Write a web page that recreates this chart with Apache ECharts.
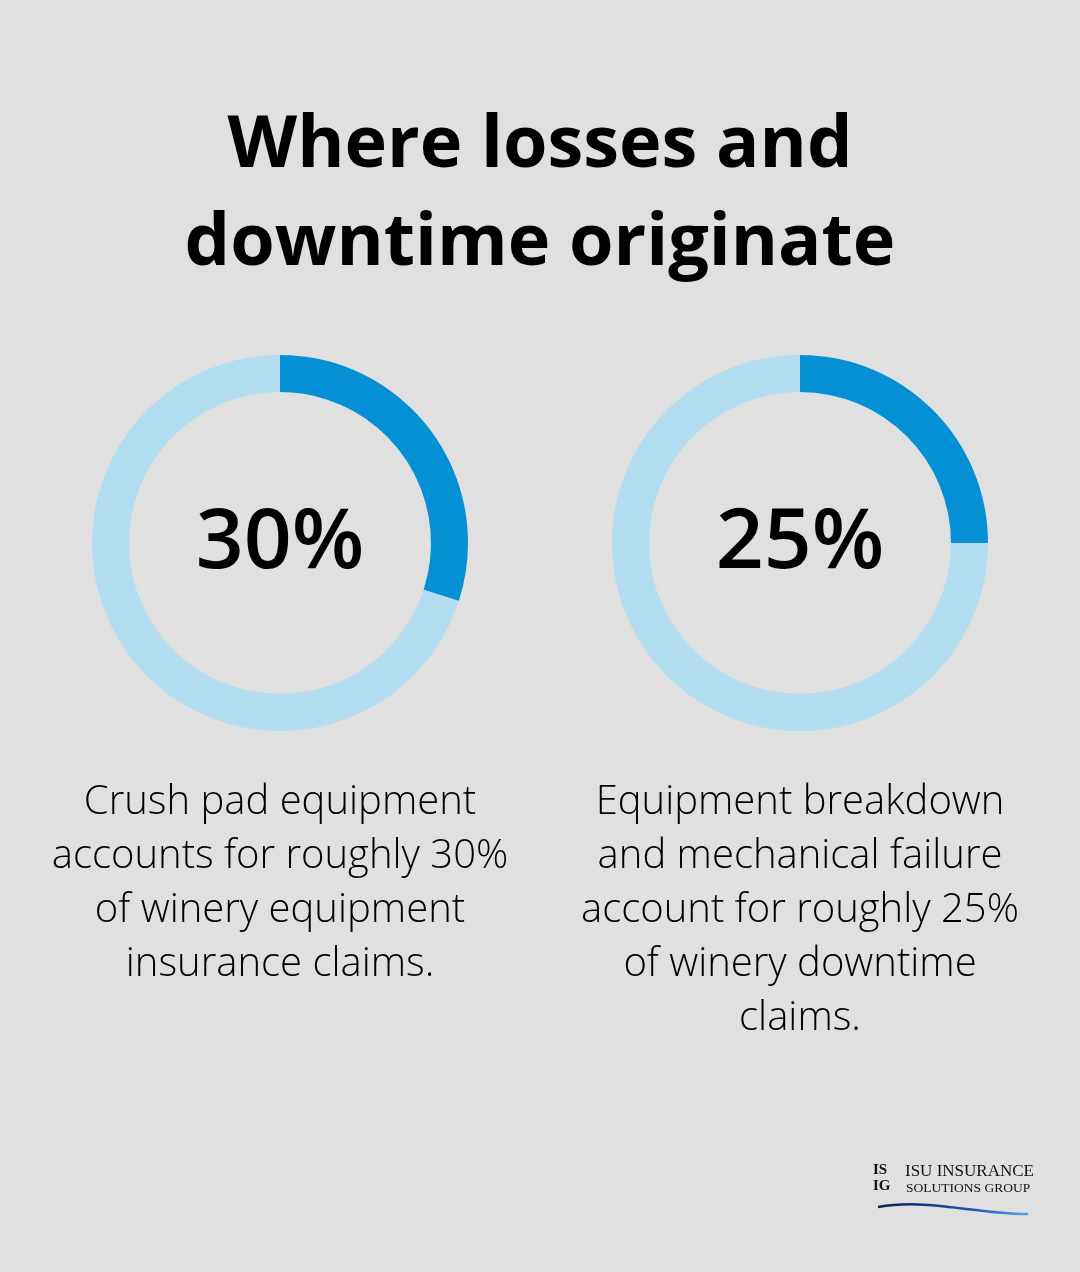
<!DOCTYPE html>
<html><head><meta charset="utf-8">
<script src="https://cdn.jsdelivr.net/npm/echarts@6/dist/echarts.min.js"></script>
<style>html,body{margin:0;padding:0;background:#dfe0df}#c{width:1080px;height:1272px}</style>
</head><body><div id="c"></div>
<script>
const titleLines = ["Where losses and", "downtime originate"];
const shares = [30, 25];
const centerLabels = ["30%", "25%"];
const descriptions = [
  "Crush pad equipment\naccounts for roughly 30%\nof winery equipment\ninsurance claims.",
  "Equipment breakdown\nand mechanical failure\naccount for roughly 25%\nof winery downtime\nclaims."
];
const logoLines = ["ISU INSURANCE", "SOLUTIONS GROUP"];

const centersX = [280, 800];
const chart = echarts.init(document.getElementById('c'));
const series = shares.map((v, i) => ({
  type: 'pie',
  center: [centersX[i], 543],
  radius: [151, 188],
  startAngle: 90,
  clockwise: true,
  silent: true,
  label: {show: false},
  labelLine: {show: false},
  itemStyle: {borderWidth: 0},
  data: [
    {value: v, name: 'share', itemStyle: {color: '#0590d5'}},
    {value: 100 - v, name: 'rest', itemStyle: {color: '#b3ddf0'}}
  ]
}));
const titles = [
  {text: titleLines.join('\n'), left: 540, top: 97, textAlign: 'center', padding: 0,
   textStyle: {fontFamily: 'Open Sans', fontWeight: 'bold', fontSize: 72, lineHeight: 98, color: '#000'}}
];
shares.forEach((v, i) => {
  titles.push({text: centerLabels[i], left: centersX[i], top: 544, textAlign: 'center', textVerticalAlign: 'middle', padding: 0,
    textStyle: {fontFamily: 'Open Sans', fontWeight: 600, fontSize: 84, color: '#000'}});
  titles.push({text: descriptions[i], left: centersX[i], top: 776, textAlign: 'center', padding: 0,
    textStyle: {fontFamily: 'Open Sans', fontWeight: 300, fontSize: 40, lineHeight: 54, color: '#000'}});
});
chart.setOption({
  backgroundColor: '#dfe0df',
  animation: false,
  title: titles,
  series: series,
  graphic: [
    {type: 'text', left: 905, top: 1163, style: {text: logoLines[0], font: '17px "Liberation Serif"', fill: '#111'}},
    {type: 'text', left: 906, top: 1181, style: {text: logoLines[1], font: '13.5px "Liberation Serif"', fill: '#111'}},
    {type: 'text', left: 873, top: 1163, style: {text: 'IS', font: 'bold 15px "Liberation Serif"', fill: '#111'}},
    {type: 'text', left: 873, top: 1179, style: {text: 'IG', font: 'bold 15px "Liberation Serif"', fill: '#111'}},
    {type: 'bezierCurve', shape: {x1: 878, y1: 1207, x2: 1028, y2: 1214, cpx1: 930, cpy1: 1198, cpx2: 980, cpy2: 1215},
     style: {stroke: new echarts.graphic.LinearGradient(0, 0, 1, 0, [{offset: 0, color: '#0a1f5c'}, {offset: 0.6, color: '#1b4fb0'}, {offset: 1, color: '#5aa8e6'}]), lineWidth: 2.5, fill: null}}
  ]
});
</script></body></html>
